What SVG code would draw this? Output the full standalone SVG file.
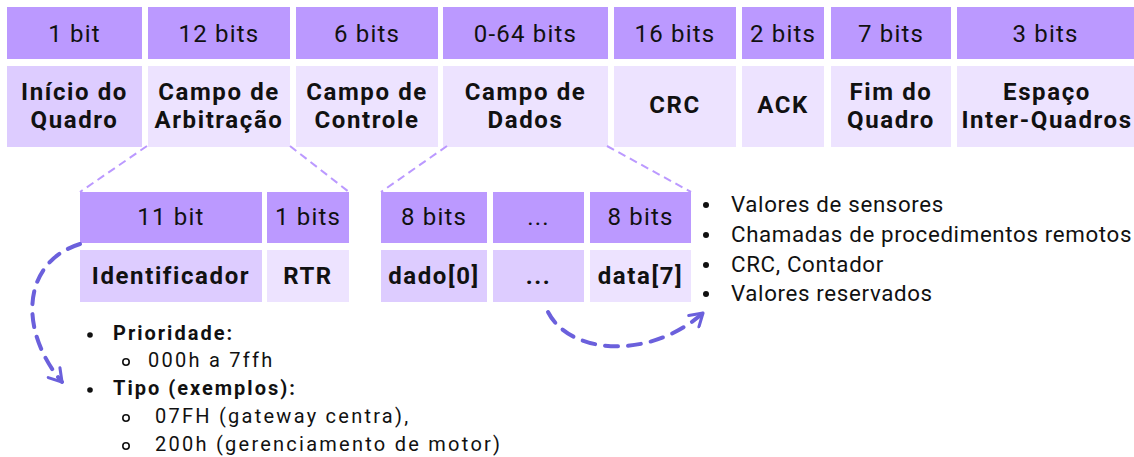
<svg xmlns="http://www.w3.org/2000/svg" width="1134" height="457" viewBox="0 0 1134 457">
<defs>
<style>
.hd{fill:#BB99FF}
.dk{fill:#DDCCFF}
.lt{fill:#EDE3FF}
.ht{font-family:Roboto,"Liberation Sans",sans-serif;font-size:24px;letter-spacing:1.2px;fill:#111;text-anchor:middle}
.bt{font-family:Roboto,"Liberation Sans",sans-serif;font-size:24px;font-weight:700;letter-spacing:1.6px;fill:#111;text-anchor:middle}
.li{font-family:Roboto,"Liberation Sans",sans-serif;font-size:22.3px;letter-spacing:0.65px;fill:#111}
.bl{font-family:Roboto,"Liberation Sans",sans-serif;font-size:20px;letter-spacing:2.25px;fill:#111}
.blb{font-weight:700;letter-spacing:2px}
.zoom{fill:none;stroke:#BB99FF;stroke-width:2;stroke-dasharray:8 5}
.arr{fill:none;stroke:#6B60DC;stroke-width:4;stroke-dasharray:13 10;stroke-linecap:round}
</style>
<marker id="ah" viewBox="0 0 12 12" refX="10" refY="6" markerWidth="4.6" markerHeight="4.6" orient="auto" markerUnits="strokeWidth">
<path d="M2,1 L10,6 L2,11" fill="none" stroke="#6B60DC" stroke-width="2" stroke-linecap="round" stroke-linejoin="round"/>
</marker>
</defs>
<rect width="1134" height="457" fill="#ffffff"/>

<g id="inicio">
<rect class="hd" x="7" y="7" width="135" height="52"/><text class="ht" x="74.5" y="42">1 bit</text>
<rect class="dk" x="7" y="66" width="135" height="81"/><text class="bt" x="74.5" y="100">Início do</text><text class="bt" x="74.5" y="128">Quadro</text>
</g>
<g id="arbitracao">
<rect class="hd" x="148" y="7" width="142" height="52"/><text class="ht" x="219" y="42">12 bits</text>
<rect class="lt" x="148" y="66" width="142" height="81"/><text class="bt" x="219" y="100">Campo de</text><text class="bt" x="219" y="128">Arbitração</text>
</g>
<g id="controle">
<rect class="hd" x="296" y="7" width="142" height="52"/><text class="ht" x="367" y="42">6 bits</text>
<rect class="lt" x="296" y="66" width="142" height="81"/><text class="bt" x="367" y="100">Campo de</text><text class="bt" x="367" y="128">Controle</text>
</g>
<g id="dados">
<rect class="hd" x="443" y="7" width="165" height="52"/><text class="ht" x="525.5" y="42">0-64 bits</text>
<rect class="lt" x="443" y="66" width="165" height="81"/><text class="bt" x="525.5" y="100">Campo de</text><text class="bt" x="525.5" y="128">Dados</text>
</g>
<g id="crc">
<rect class="hd" x="614" y="7" width="122" height="52"/><text class="ht" x="675" y="42">16 bits</text>
<rect class="lt" x="614" y="66" width="122" height="81"/><text class="bt" x="675" y="113">CRC</text>
</g>
<g id="ack">
<rect class="hd" x="742" y="7" width="82" height="52"/><text class="ht" x="783" y="42">2 bits</text>
<rect class="lt" x="742" y="66" width="82" height="81"/><text class="bt" x="783" y="113">ACK</text>
</g>
<g id="fim">
<rect class="hd" x="831" y="7" width="120" height="52"/><text class="ht" x="891" y="42">7 bits</text>
<rect class="lt" x="831" y="66" width="120" height="81"/><text class="bt" x="891" y="100">Fim do</text><text class="bt" x="891" y="128">Quadro</text>
</g>
<g id="espaco">
<rect class="hd" x="957" y="7" width="177" height="52"/><text class="ht" x="1045.5" y="42">3 bits</text>
<rect class="lt" x="957" y="66" width="177" height="81"/><text class="bt" x="1047" y="100">Espaço</text><text class="bt" x="1047" y="128">Inter-Quadros</text>
</g>

<g id="identificador">
<rect class="hd" x="80" y="192" width="182" height="51"/><text class="ht" x="171" y="225">11 bit</text>
<rect class="dk" x="80" y="250" width="182" height="52"/><text class="bt" x="171" y="284">Identificador</text>
</g>
<g id="rtr">
<rect class="hd" x="267" y="192" width="82" height="51"/><text class="ht" x="308" y="225">1 bits</text>
<rect class="lt" x="267" y="250" width="82" height="52"/><text class="bt" x="308" y="284">RTR</text>
</g>
<g id="dado0">
<rect class="hd" x="381" y="192" width="106" height="51"/><text class="ht" x="434" y="225">8 bits</text>
<rect class="dk" x="381" y="250" width="106" height="52"/><text class="bt" x="434" y="284">dado[0]</text>
</g>
<g id="reticencias">
<rect class="hd" x="493" y="192" width="91" height="51"/><text class="ht" x="538.5" y="225">...</text>
<rect class="dk" x="493" y="250" width="91" height="52"/><text class="bt" x="538.5" y="284">...</text>
</g>
<g id="data7">
<rect class="hd" x="590" y="192" width="101" height="51"/><text class="ht" x="640.5" y="225">8 bits</text>
<rect class="lt" x="590" y="250" width="101" height="52"/><text class="bt" x="640.5" y="284">data[7]</text>
</g>

<g id="lista-dados">
<circle cx="706" cy="205" r="3" fill="#111"/><text class="li" x="731" y="212">Valores de sensores</text>
<circle cx="706" cy="235" r="3" fill="#111"/><text class="li" x="731" y="242">Chamadas de procedimentos remotos</text>
<circle cx="706" cy="265" r="3" fill="#111"/><text class="li" x="731" y="272">CRC, Contador</text>
<circle cx="706" cy="294" r="3" fill="#111"/><text class="li" x="731" y="301">Valores reservados</text>
</g>

<g id="lista-identificador">
<circle cx="90" cy="335" r="2.8" fill="#111"/><text class="bl blb" x="113" y="340">Prioridade:</text>
<circle cx="126" cy="362" r="3.2" fill="none" stroke="#111" stroke-width="1.6"/><text class="bl" x="148" y="367">000h a 7ffh</text>
<circle cx="90" cy="390" r="2.8" fill="#111"/><text class="bl blb" x="113" y="395">Tipo (exemplos):</text>
<circle cx="126" cy="418" r="3.2" fill="none" stroke="#111" stroke-width="1.6"/><text class="bl" x="155" y="423">07FH (gateway centra),</text>
<circle cx="126" cy="446" r="3.2" fill="none" stroke="#111" stroke-width="1.6"/><text class="bl" x="155" y="451">200h (gerenciamento de motor)</text>
</g>

<g id="conectores">
<line class="zoom" x1="147" y1="146" x2="80" y2="192"/>
<line class="zoom" x1="290" y1="146" x2="349" y2="192"/>
<line class="zoom" x1="447" y1="146" x2="381" y2="192"/>
<line class="zoom" x1="607" y1="146" x2="691" y2="192"/>
<path class="arr" d="M80,244 C22,262 18,330 62,382" marker-end="url(#ah)"/>
<path class="arr" d="M548,312 C570,355 650,360 703,313" marker-end="url(#ah)"/>
</g>
</svg>
